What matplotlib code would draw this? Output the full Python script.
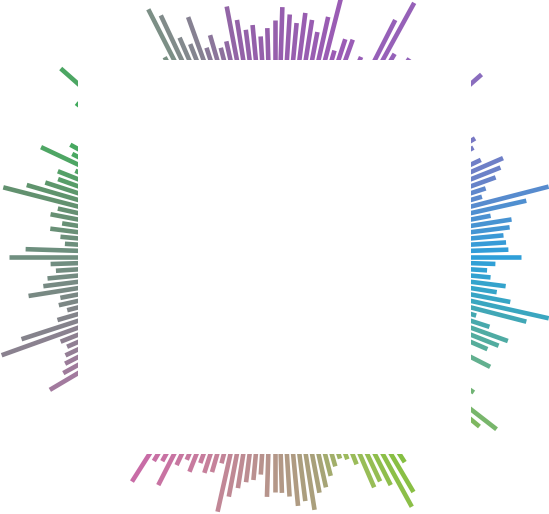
import numpy as np
import matplotlib
matplotlib.use("Agg")
import matplotlib.pyplot as plt
from matplotlib.colors import LinearSegmentedColormap
from matplotlib.patches import Rectangle

# bar lengths (pixels from centre), one per 1.8 degrees, counter-clockwise from east
lengths = [
    246, 234, 232, 230, 237, 240, 220, 258, 283, 216,
    222, 235, 243, 249, 228, 200, 227, 233, 205, 210,
    190, 220, 215, 276, 230, 210, 220, 240, 200, 230,
    225, 240, 210, 236, 290, 266, 190, 218, 180, 231,
    229, 215, 268, 246, 229, 240, 246, 235, 243, 250,
    237, 229, 221, 233, 229, 240, 255, 221, 216, 231,
    220, 255, 229, 239, 267, 278, 228, 200, 215, 225,
    210, 230, 240, 220, 250, 230, 240, 285, 230, 251,
    200, 220, 180, 210, 233, 227, 258, 217, 233, 230,
    241, 258, 280, 222, 228, 215, 226, 215, 210, 249,
    266, 224, 219, 228, 233, 249, 218, 221, 214, 226,
    266, 290, 230, 226, 231, 235, 241, 261, 200, 225,
    215, 235, 220, 240, 225, 250, 235, 250, 230, 240,
    225, 220, 266, 237, 233, 256, 230, 221, 231, 219,
    227, 224, 213, 261, 244, 234, 227, 224, 218, 240,
    235, 236, 240, 250, 246, 256, 240, 236, 226, 218,
    212, 215, 223, 251, 248, 256, 285, 273, 243, 220,
    230, 210, 245, 235, 250, 240, 245, 230, 266, 281,
    225, 241, 220, 190, 210, 242, 200, 232, 241, 248,
    226, 210, 260, 281, 240, 225, 233, 217, 213, 221,
]

# colour stops around the circle (bar index, colour)
stop_index = [0, 12, 24, 40, 55, 63, 70, 80, 86, 92, 100, 106, 112, 117,
              130, 140, 150, 156, 162, 168, 178, 185, 190, 195, 200]
stop_color = ["#2f9fd9", "#6c80c8", "#8d6bbd", "#9b5bb5", "#9361a8", "#828a8c",
              "#6f9a78", "#3cab5a", "#4da763", "#63906f", "#6f8f80", "#7a8884",
              "#8c8090", "#a37a9e", "#c868a8", "#c77f9c", "#b5968a", "#a8a07a",
              "#9cbc5c", "#86c040", "#7eb860", "#62b08f", "#4aaaa8", "#35a4c8",
              "#2f9fd9"]

n = len(lengths)
theta = np.arange(n) * 2 * np.pi / n
cmap = LinearSegmentedColormap.from_list(
    "ring", list(zip(np.array(stop_index) / n, stop_color)))
colors = cmap(np.arange(n) / n)

W, H = 549, 514
fig = plt.figure(figsize=(W / 100, H / 100), dpi=100)
cx, cy, R = 274.5, 257, 300
ax = fig.add_axes([(cx - R) / W, (H - cy - R) / H, 2 * R / W, 2 * R / H],
                  projection="polar")
ax.vlines(theta, 0, lengths, colors=colors, linewidth=3.3, capstyle="butt")
ax.set_ylim(0, R)
ax.axis("off")

# white square over the centre
fig.add_artist(Rectangle((78 / W, (H - 454) / H), (471 - 78) / W, (454 - 60) / H,
                         transform=fig.transFigure, facecolor="white",
                         edgecolor="none", zorder=10))

fig.savefig("out.png", dpi=100)
